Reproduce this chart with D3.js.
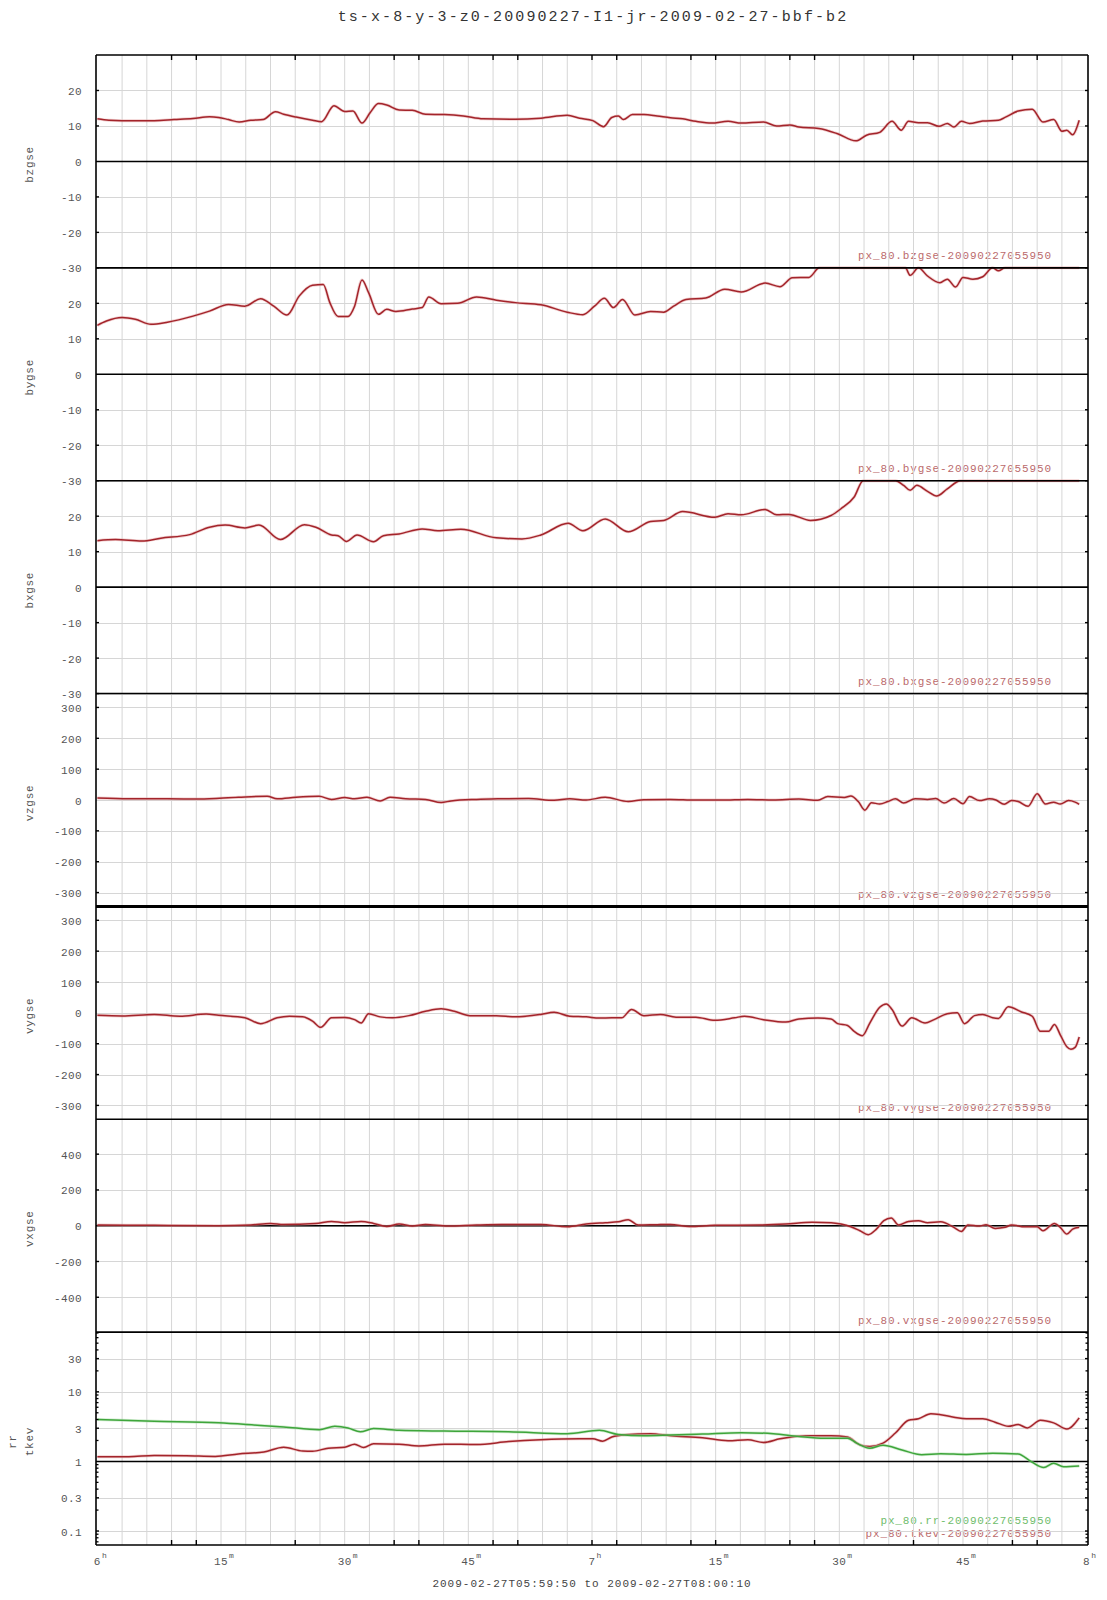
<!DOCTYPE html>
<html><head><meta charset="utf-8">
<script src="https://cdn.jsdelivr.net/npm/d3@7"></script>
<style>
body{margin:0;background:#fff}
text{font-family:"Liberation Mono","DejaVu Sans Mono",monospace}
</style>
</head><body>
<svg id="c" width="1107" height="1600"></svg>
<script>
// ---------- data ----------
const chartTitle = "ts-x-8-y-3-z0-20090227-I1-jr-2009-02-27-bbf-b2";
const timeRangeText = "2009-02-27T05:59:50 to 2009-02-27T08:00:10";
// time axis in minutes after 06:00 UT
const xDomain = [-10/60, 120 + 10/60];
const xTickMinutes = [0, 15, 30, 45, 60, 75, 90, 105, 120];
const xTickMain = ["6", "15", "30", "45", "7", "15", "30", "45", "8"];
const xTickSup = ["h", "m", "m", "m", "h", "m", "m", "m", "h"];
const xMarkMinutes = [9, 12, 24, 36, 39, 48, 51, 60, 63, 72, 75, 84, 87, 99, 111, 114];

const bzgse = [[0,12.0],[1.4,11.6],[3.0,11.5],[6.9,11.5],[9.3,11.8],[11.6,12.1],[13.6,12.6],[14.7,12.4],[15.9,11.8],[17.2,11.1],[18.6,11.6],[20.1,11.8],[21.6,14.0],[22.6,13.3],[24.1,12.5],[26.1,11.6],[27.2,11.2],[28.7,15.7],[30.0,14.1],[31.0,14.2],[32.1,10.8],[33.1,13.8],[34.1,16.3],[35.1,15.9],[36.6,14.5],[38.2,14.4],[39.8,13.3],[42.1,13.2],[44.4,12.8],[46.8,12.0],[50.7,11.9],[53.8,12.2],[57.0,13.0],[58.5,12.2],[60.1,11.5],[61.4,9.8],[62.4,12.4],[63.2,12.8],[63.8,11.8],[64.9,13.2],[66.3,13.2],[67.9,12.8],[69.5,12.3],[71.0,12.0],[72.6,11.3],[74.5,10.8],[76.5,11.3],[78.1,10.8],[80.8,11.1],[82.4,10.0],[84.0,10.3],[85.1,9.7],[87.5,9.3],[89.8,7.8],[92.0,5.8],[93.3,7.4],[94.9,8.2],[96.4,11.3],[97.5,8.8],[98.4,11.3],[99.6,10.9],[100.7,10.9],[102.1,9.9],[103.1,10.7],[103.9,9.7],[104.8,11.3],[105.8,10.7],[107.4,11.4],[109.3,11.6],[110.1,12.4],[111.7,14.2],[113.4,14.7],[114.7,11.1],[116.0,11.8],[117.0,8.5],[117.6,8.8],[118.3,7.5],[119.1,11.6]];

const bygse = [[0,13.8],[1.1,15.0],[3.0,16.0],[4.6,15.5],[6.5,14.1],[8.5,14.7],[11.6,16.4],[13.6,17.8],[15.9,19.7],[17.9,19.2],[19.8,21.3],[21.4,19.2],[23.0,16.7],[24.5,22.1],[26.1,25.1],[27.4,25.3],[28.2,20.2],[29.2,16.3],[30.4,16.3],[31.2,19.2],[32.1,26.6],[32.9,23.0],[34.1,16.9],[35.1,18.3],[36.2,17.7],[38.2,18.4],[39.4,18.8],[40.2,21.8],[41.7,19.9],[43.7,20.0],[46.0,21.8],[48.4,20.9],[50.7,20.2],[53.8,19.6],[57.0,17.5],[58.9,16.8],[60.3,19.2],[61.5,21.4],[62.6,18.8],[63.7,21.1],[65.2,16.7],[67.1,17.7],[68.7,17.5],[69.9,19.2],[71.4,21.1],[73.8,21.5],[76.1,24.0],[78.1,23.2],[81.0,25.7],[82.8,24.7],[84.3,27.2],[86.3,27.3],[87.6,31],[89.8,33],[93.0,34],[96.1,32],[98.0,31],[98.6,27.9],[99.6,30.5],[100.7,27.7],[102.2,25.8],[103.1,26.8],[104.1,24.6],[105.0,27.3],[106.2,26.8],[107.4,27.5],[108.6,31],[109.3,29.2],[110.1,31],[119.1,32]];

const bxgse = [[0,13.1],[2.2,13.4],[5.4,13.0],[7.7,13.8],[11.2,14.8],[13.6,16.9],[15.5,17.5],[17.9,16.7],[19.6,17.5],[22.2,13.4],[25.1,17.6],[26.5,16.9],[28.4,14.7],[29.2,14.5],[30.2,12.9],[31.5,14.7],[33.5,12.8],[34.7,14.5],[36.6,15.0],[39.4,16.4],[41.3,15.9],[44.1,16.3],[48.4,13.9],[51.5,13.6],[53.8,14.7],[57.1,18.0],[58.9,15.9],[61.6,19.2],[64.4,15.6],[67.1,18.5],[68.7,18.8],[71.0,21.3],[74.9,19.7],[76.5,20.7],[78.1,20.4],[81.0,21.9],[82.4,20.4],[83.9,20.5],[86.5,18.8],[89.0,20.2],[90.2,22.1],[91.8,25.4],[92.9,31],[94.9,33],[96.8,31],[97.8,28.7],[98.6,27.3],[99.4,28.7],[100.7,27.0],[101.8,25.7],[103.1,27.7],[104.7,31],[108.6,33],[119.1,32]];

const vzgse = [[0,6.5],[3.8,4],[8.5,4],[12.4,3],[17.1,9],[20.6,12],[21.8,4],[24.1,9],[26.9,12],[28.4,2],[30.0,8],[31.2,4],[32.7,9],[34.3,-3],[35.5,9],[37.4,4],[39.8,2],[41.7,-8],[42.9,-3],[46.0,2],[49.1,4],[52.3,5],[55.4,-1],[57.3,4],[59.3,0],[61.6,9],[64.4,-5],[66.3,1],[69.5,2],[72.6,0],[75.7,0],[78.9,2],[82.0,0],[85.1,3],[87.4,-1],[88.6,11],[90.6,8],[91.4,13],[92.3,-5],[93.1,-33],[93.9,-9],[94.9,-13],[95.9,-5],[96.8,4],[97.8,-10],[99.2,4],[100.7,2],[101.7,5],[102.7,-10],[103.9,5],[105.0,-12],[105.8,11],[107.0,-2],[108.2,4],[109.0,0],[110.0,-14],[110.9,-2],[111.7,-5],[112.9,-20],[114.0,20],[115.0,-13],[116.0,-7],[116.8,-13],[117.8,-2],[118.6,-7],[119.1,-14]];

const vygse = [[0,-8],[3.0,-10],[6.9,-5],[10.0,-11],[13.2,-4],[14.7,-8],[17.9,-16],[19.8,-35],[21.8,-16],[23.3,-11],[24.9,-13],[26.1,-27],[27.1,-47],[28.4,-16],[30.0,-15],[31.2,-22],[32.0,-33],[32.9,-3],[34.3,-13],[35.8,-16],[37.8,-9],[39.8,5],[41.7,13],[43.3,5],[45.2,-9],[48.4,-9],[50.7,-13],[53.8,-5],[55.4,2],[57.3,-11],[59.3,-13],[60.9,-17],[62.4,-16],[63.6,-16],[64.8,11],[66.3,-9],[68.3,-5],[70.2,-14],[72.6,-14],[74.9,-24],[77.3,-16],[78.5,-11],[80.8,-22],[83.5,-30],[85.1,-20],[87.4,-17],[89.0,-20],[89.8,-35],[91.0,-41],[91.8,-60],[92.8,-74],[93.7,-33],[94.9,18],[95.7,29],[96.4,11],[97.6,-43],[98.8,-16],[100.4,-33],[101.5,-22],[103.1,-3],[104.3,0],[105.2,-35],[106.4,-9],[107.4,-5],[108.6,-16],[109.3,-18],[110.5,20],[112.1,3],[113.4,-11],[114.4,-60],[115.4,-60],[116.1,-38],[116.8,-71],[117.6,-110],[118.1,-118],[118.6,-112],[119.1,-78]];

const vxgse = [[0,4],[6.9,2],[14.7,0],[18.6,4],[21.0,13],[22.6,7],[26.5,13],[28.4,24],[30.0,17],[32.0,24],[33.5,13],[35.1,-4],[36.6,9],[38.2,-2],[39.8,7],[42.5,-2],[46.0,4],[49.1,7],[53.8,7],[57.0,-6],[59.3,9],[61.6,17],[63.2,22],[64.4,34],[65.6,4],[67.9,6],[69.5,7],[71.8,-4],[74.9,2],[80.4,4],[83.5,9],[86.7,19],[89.0,17],[90.2,9],[91.4,-6],[92.5,-28],[93.5,-50],[94.5,-19],[95.4,28],[96.3,43],[97.2,4],[98.4,24],[99.6,28],[100.7,17],[102.3,22],[103.9,-9],[104.8,-32],[105.6,4],[107.0,-2],[107.8,6],[108.9,-15],[110.1,-9],[110.9,4],[112.5,-6],[114.0,-6],[114.7,-28],[116.1,13],[116.8,-9],[117.6,-47],[118.3,-19],[119.1,-9]];

const rr = [[0,4.0],[6.9,3.78],[14.7,3.58],[19.4,3.31],[22.6,3.13],[26.9,2.86],[28.8,3.2],[30.4,3.03],[31.9,2.67],[33.5,2.96],[36.6,2.8],[42.1,2.73],[49.9,2.67],[57.0,2.5],[60.9,2.8],[63.2,2.44],[66.3,2.34],[69.5,2.39],[73.4,2.47],[78.1,2.59],[82.0,2.5],[85.1,2.29],[88.2,2.16],[91.0,2.16],[92.1,1.83],[93.7,1.55],[95.3,1.71],[97.6,1.46],[100.0,1.25],[102.3,1.29],[105.4,1.26],[108.6,1.31],[111.7,1.28],[113.3,0.99],[114.8,0.82],[116.0,0.94],[117.2,0.84],[119.1,0.86]];

const tkev = [[0,1.17],[3.8,1.17],[6.9,1.22],[10.8,1.21],[14.3,1.18],[17.1,1.28],[20.2,1.37],[22.6,1.6],[24.9,1.41],[26.1,1.40],[28.0,1.55],[30.0,1.6],[31.2,1.77],[32.3,1.58],[33.5,1.79],[36.6,1.77],[39.0,1.67],[42.1,1.77],[46.0,1.75],[49.9,1.93],[53.8,2.05],[58.5,2.11],[60.1,2.11],[61.3,1.95],[62.4,2.24],[64.0,2.42],[67.1,2.5],[69.5,2.34],[73.4,2.19],[76.5,1.98],[78.9,2.05],[80.8,1.87],[82.8,2.11],[85.9,2.34],[89.0,2.34],[91.0,2.24],[92.5,1.73],[93.7,1.64],[95.3,1.83],[96.8,2.56],[98.4,3.91],[99.6,4.09],[101.1,4.83],[102.3,4.68],[103.9,4.32],[105.4,4.09],[107.4,4.09],[108.9,3.66],[110.5,3.2],[111.7,3.38],[112.8,3.03],[114.4,3.91],[116.0,3.58],[117.6,2.92],[119.1,4.23]];

const bTicks = [-30, -20, -10, 0, 10, 20];
const vTicks = [-300, -200, -100, 0, 100, 200, 300];
const vxTicks = [-400, -200, 0, 200, 400];
const logTicks = [0.1, 0.3, 1, 3, 10, 30];

// ---------- styling ----------
const RED = "#a3242b", RED_HALO = "#e3a0a0", RED_LEG = "#bb6a6c";
const GREEN = "#3ea53b", GREEN_HALO = "#a8dca6", GREEN_LEG = "#6fbd6c";

const panels = [
  {ylab:["bzgse"], dom:[-30,30], ticks:bTicks, zero:true, series:[{d:bzgse,c:RED,h:RED_HALO,lc:RED_LEG,leg:"px_80.bzgse-20090227055950"}]},
  {ylab:["bygse"], dom:[-30,30], ticks:bTicks, zero:true, series:[{d:bygse,c:RED,h:RED_HALO,lc:RED_LEG,leg:"px_80.bygse-20090227055950"}]},
  {ylab:["bxgse"], dom:[-30,30], ticks:bTicks, zero:true, series:[{d:bxgse,c:RED,h:RED_HALO,lc:RED_LEG,leg:"px_80.bxgse-20090227055950"}]},
  {ylab:["vzgse"], dom:[-345,345], ticks:vTicks, zero:false, series:[{d:vzgse,c:RED,h:RED_HALO,lc:RED_LEG,leg:"px_80.vzgse-20090227055950"}]},
  {ylab:["vygse"], dom:[-345,345], ticks:vTicks, zero:false, series:[{d:vygse,c:RED,h:RED_HALO,lc:RED_LEG,leg:"px_80.vygse-20090227055950"}]},
  {ylab:["vxgse"], dom:[-595,595], ticks:vxTicks, zero:true, series:[{d:vxgse,c:RED,h:RED_HALO,lc:RED_LEG,leg:"px_80.vxgse-20090227055950"}]},
  {ylab:["rr","tkev"], log:true, dom:[0.063,72], ticks:logTicks, zero:true, zeroVal:1,
   series:[{d:tkev,c:RED,h:RED_HALO,lc:RED_LEG,leg:"px_80.tkev-20090227055950"},
           {d:rr,c:GREEN,h:GREEN_HALO,lc:GREEN_LEG,leg:"px_80.rr-20090227055950"}]}
];

// ---------- drawing ----------
const L = 96, R = 1088, T = 55, B = 1545;
const ph = (B - T) / panels.length;
const svg = d3.select("#c");
const x = d3.scaleLinear().domain(xDomain).range([L, R]);

svg.append("rect").attr("width",1107).attr("height",1600).attr("fill","#fff");

svg.append("text").attr("x", (L+R)/2 + 1).attr("y", 20.5).attr("text-anchor","middle")
  .attr("font-size", 15).attr("letter-spacing", 2.1).attr("fill", "#333").text(chartTitle);

const gLeg = svg.append("g"), gGrid = svg.append("g"), gZero = svg.append("g"),
      gData = svg.append("g"), gAxis = svg.append("g");

panels.forEach((p, i) => {
  const y0 = T + i*ph, y1 = y0 + ph;
  const y = (p.log ? d3.scaleLog() : d3.scaleLinear()).domain(p.dom).range([y1, y0]).clamp(true);
  const zeroVal = p.zeroVal !== undefined ? p.zeroVal : 0;

  // legends (drawn beneath grid)
  p.series.forEach((s, k) => {
    gLeg.append("text").attr("x", 1051 + 0.85).attr("y", y1 - 8.5 - k*12.5)
      .attr("text-anchor","end").attr("font-size", 11).attr("letter-spacing", 0.85)
      .attr("fill", s.lc).text(s.leg);
  });

  // vertical grid
  gGrid.selectAll(null).data(d3.range(3, 120, 3)).enter().append("line")
    .attr("x1", d => x(d)).attr("x2", d => x(d)).attr("y1", y0).attr("y2", y1)
    .attr("stroke", "#d6d6d6").attr("stroke-width", 1);
  // horizontal grid
  gGrid.selectAll(null).data(p.ticks).enter().append("line")
    .attr("x1", L).attr("x2", R).attr("y1", d => Math.round(y(d))+0.5).attr("y2", d => Math.round(y(d))+0.5)
    .attr("stroke", "#d6d6d6").attr("stroke-width", 1);

  if (p.zero) {
    gZero.append("line").attr("x1", L).attr("x2", R)
      .attr("y1", y(zeroVal)).attr("y2", y(zeroVal)).attr("stroke", "#000").attr("stroke-width", 1.6);
  }

  // tick labels
  gAxis.selectAll(null).data(p.ticks).enter().append("text")
    .attr("x", 82).attr("y", d => y(d) + 4.5).attr("text-anchor","end")
    .attr("font-size", 11).attr("letter-spacing", 0.4).attr("fill", "#555")
    .text(d => String(d));

  // small inward ticks (left & right)
  const tickVals = p.ticks.filter(v => v !== zeroVal);
  [[L, 1], [R, -1]].forEach(([xx, dir]) => {
    gAxis.selectAll(null).data(tickVals).enter().append("line")
      .attr("x1", xx).attr("x2", xx + dir*3).attr("y1", d => y(d)).attr("y2", d => y(d))
      .attr("stroke", "#000").attr("stroke-width", 1.4);
  });
  if (p.log) {
    const minors = [];
    [-2, -1, 0, 1].forEach(e => d3.range(2, 10).forEach(k => {
      const v = k * Math.pow(10, e);
      if (v > p.dom[0] && v < p.dom[1] && k !== 3) minors.push(v);
    }));
    [[L, 1], [R, -1]].forEach(([xx, dir]) => {
      gAxis.selectAll(null).data(minors).enter().append("line")
        .attr("x1", xx).attr("x2", xx + dir*2.5).attr("y1", d => y(d)).attr("y2", d => y(d))
        .attr("stroke", "#000").attr("stroke-width", 1.3);
    });
  }

  // y axis titles
  const labX = p.ylab.length === 1 ? [30] : [13, 30];
  p.ylab.forEach((lab, k) => {
    gAxis.append("text").attr("transform", `translate(${labX[k]},${(y0+y1)/2 + 3}) rotate(-90)`)
      .attr("text-anchor","middle").attr("dominant-baseline","central")
      .attr("font-size", 11).attr("letter-spacing", 0.7).attr("fill", "#555").text(lab);
  });

  // data
  const line = d3.line().x(d => x(d[0])).y(d => y(d[1])).curve(d3.curveMonotoneX);
  p.series.forEach(s => {
    gData.append("path").attr("d", line(s.d)).attr("fill","none")
      .attr("stroke", s.h).attr("stroke-width", 3.0).attr("stroke-opacity", 0.5)
      .attr("stroke-linejoin","round");
    gData.append("path").attr("d", line(s.d)).attr("fill","none")
      .attr("stroke", s.c).attr("stroke-width", 1.5).attr("stroke-linejoin","round");
  });

  // panel top border
  const sepW = (i === 4) ? 3 : 1.6;
  gAxis.append("line").attr("x1", L).attr("x2", R).attr("y1", y0).attr("y2", y0)
    .attr("stroke", "#000").attr("stroke-width", sepW);
});

// bottom border, side borders
gAxis.append("line").attr("x1", L).attr("x2", R).attr("y1", B).attr("y2", B).attr("stroke","#000").attr("stroke-width",1.6);
gAxis.append("line").attr("x1", L).attr("x2", L).attr("y1", T).attr("y2", B).attr("stroke","#000").attr("stroke-width",1.6);
gAxis.append("line").attr("x1", R).attr("x2", R).attr("y1", T).attr("y2", B).attr("stroke","#000").attr("stroke-width",1.6);

// top/bottom tick marks
[[T, 1], [B, -1]].forEach(([yy, dir]) => {
  gAxis.selectAll(null).data(xMarkMinutes).enter().append("line")
    .attr("x1", d => x(d)).attr("x2", d => x(d)).attr("y1", yy).attr("y2", yy + dir*5)
    .attr("stroke", "#000").attr("stroke-width", 1.4);
});

// x tick labels with superscripts
xTickMinutes.forEach((m, i) => {
  const t = gAxis.append("text").attr("x", x(m)).attr("y", 1565).attr("text-anchor","middle")
    .attr("font-size", 11).attr("letter-spacing", 0.4).attr("fill", "#555").text(xTickMain[i]);
  const w = t.node().getComputedTextLength();
  gAxis.append("text").attr("x", x(m) + w/2 + 1).attr("y", 1558)
    .attr("font-size", 8).attr("fill", "#555").text(xTickSup[i]);
});

svg.append("text").attr("x", (L+R)/2).attr("y", 1586.5).attr("text-anchor","middle")
  .attr("font-size", 11).attr("letter-spacing", 1.0).attr("fill", "#444").text(timeRangeText);
</script>
</body></html>
